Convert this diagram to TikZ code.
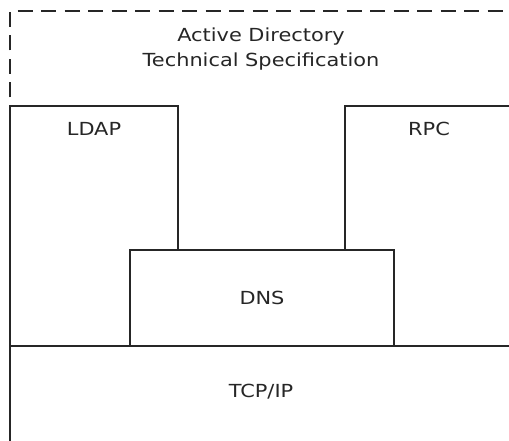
\documentclass[tikz,border=0pt]{standalone}
\usepackage{fontspec}
\setmainfont{DejaVu Sans}[FakeStretch=1.16]
\begin{document}
\begin{tikzpicture}[x=1pt,y=-1pt,
  layer/.style={line width=1.4pt, draw=black!85},
  outline/.style={line width=1.4pt, draw=black!85, dash pattern=on 15pt off 8.5pt, dash phase=15pt},
  lbl/.style={font=\fontsize{18}{24.5}\selectfont, text=black!85, align=center, inner sep=0pt}]
\useasboundingbox (0,0) rectangle (509,441);
% outer dashed boundary (Active Directory Technical Specification)
\draw[outline] (10,106) -- (10,11) -- (512,11);
% LDAP block
\draw[layer] (10,441) -- (10,106) -- (178,106) -- (178,250);
% RPC block
\draw[layer] (345,250) -- (345,106) -- (512,106);
% DNS block
\draw[layer] (130,346) -- (130,250) -- (394,250) -- (394,346);
% TCP/IP block top
\draw[layer] (10,346) -- (512,346);
% labels
\node[lbl] (adts) at (261,49) {Active Directory\\Technical Specification};
\node[lbl] (ldap) at (94,129) {LDAP};
\node[lbl] (rpc) at (429,129) {RPC};
\node[lbl] (dns) at (262,298) {DNS};
\node[lbl] (tcp) at (261,392) {TCP/IP};
\end{tikzpicture}
\end{document}
